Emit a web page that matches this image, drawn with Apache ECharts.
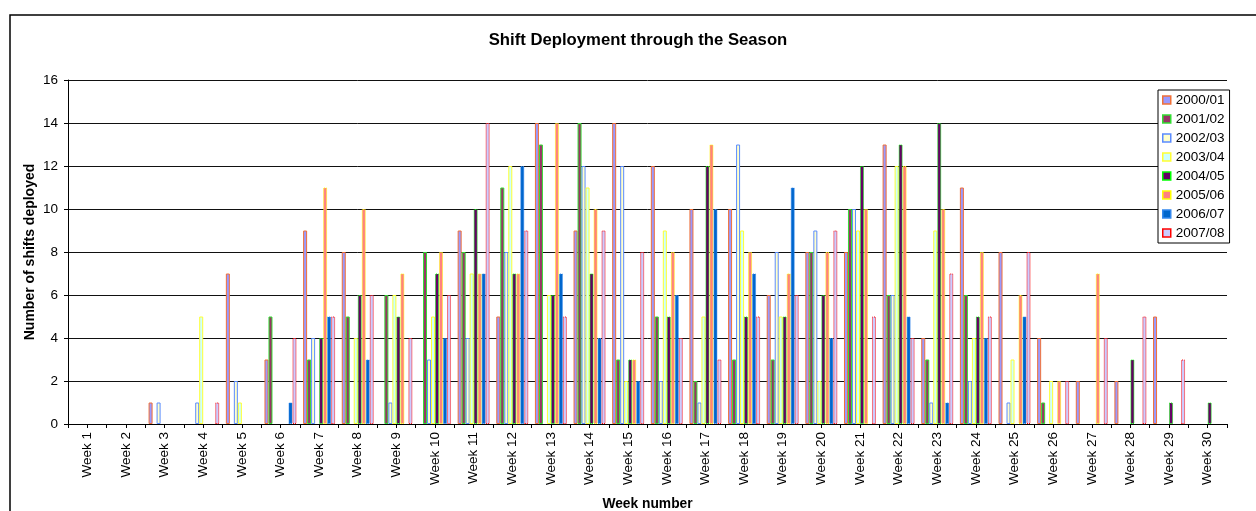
<!DOCTYPE html>
<html>
<head>
<meta charset="utf-8">
<script src="https://cdn.jsdelivr.net/npm/echarts@6/dist/echarts.min.js"></script>
<style>html,body{margin:0;padding:0;background:#fff;}#chart{width:1256px;height:511px;}</style>
</head>
<body>
<div id="chart"></div>
<script>
const weeks = ['Week 1','Week 2','Week 3','Week 4','Week 5','Week 6','Week 7','Week 8','Week 9','Week 10',
  'Week 11','Week 12','Week 13','Week 14','Week 15','Week 16','Week 17','Week 18','Week 19','Week 20',
  'Week 21','Week 22','Week 23','Week 24','Week 25','Week 26','Week 27','Week 28','Week 29','Week 30'];
const seasons = ['2000/01','2001/02','2002/03','2003/04','2004/05','2005/06','2006/07','2007/08'];
const s2000 = [0,0,1,0,7,3,9,8,0,0,9,5,14,9,14,12,10,10,6,8,8,13,4,11,8,4,2,2,5,0];
const s2001 = [0,0,0,0,0,5,3,5,6,8,8,11,13,14,3,5,2,3,3,8,10,6,3,6,0,1,0,0,0,0];
const s2002 = [0,0,1,1,2,0,4,0,1,3,4,8,0,12,12,2,1,13,8,9,10,6,1,2,1,0,0,0,0,0];
const s2003 = [0,0,0,5,1,0,0,4,6,5,7,12,6,11,2,9,5,9,5,2,9,12,9,4,3,2,0,0,0,0];
const s2004 = [0,0,0,0,0,0,4,6,5,7,10,7,6,7,3,5,12,5,5,6,12,13,14,5,0,0,0,3,1,1];
const s2005 = [0,0,0,0,0,0,11,10,7,8,7,7,14,10,3,8,13,8,7,8,10,12,10,8,6,2,7,0,0,0];
const s2006 = [0,0,0,0,0,1,5,3,0,4,7,12,7,4,2,6,10,7,11,4,0,5,1,4,5,0,0,0,0,0];
const s2007 = [0,0,0,1,0,4,5,6,4,6,14,9,5,9,8,4,3,5,6,9,5,4,7,5,8,2,4,5,3,0];
const yTicks = [0,2,4,6,8,10,12,14,16];

const allSeries = [s2000,s2001,s2002,s2003,s2004,s2005,s2006,s2007];
const styles = [
  {color:'#9999FF', borderColor:'#F07038', borderType:'solid'},
  {color:'#993366', borderColor:'#33DD33', borderType:'solid'},
  {color:'#FFFFCC', borderColor:'#5B8CFF', borderType:'solid'},
  {color:'#CCFFFF', borderColor:'#FFFF33', borderType:'solid'},
  {color:'#660066', borderColor:'#00FF00', borderType:'dotted'},
  {color:'#FF8080', borderColor:'#FFFF00', borderType:'dotted'},
  {color:'#0066CC', borderColor:'#3388EE', borderType:'dotted'},
  {color:'#CCCCFF', borderColor:'#FF0000', borderType:'dotted'}
];
const halfSlots = weeks.flatMap(w => [w + 'a', w + 'b']);
const FONT = "'Liberation Sans', Arial, sans-serif";

const chart = echarts.init(document.getElementById('chart'), null, {renderer:'canvas'});
chart.setOption({
  animation:false,
  backgroundColor:'#fff',
  textStyle:{fontFamily:FONT, color:'#000'},
  graphic:[{type:'rect', shape:{x:10, y:15, width:1400, height:700}, style:{fill:null, stroke:'#000', lineWidth:1.5}, z:-10, silent:true}],
  title:{text:'Shift Deployment through the Season', left:638, textAlign:'center', top:32, padding:0,
    textStyle:{fontFamily:FONT, fontSize:16.7, fontWeight:'bold', color:'#000'}},
  legend:{orient:'vertical', left:1158, top:90, padding:[3,5,3,4], itemGap:5, itemWidth:8, itemHeight:8,
    borderColor:'#000', borderWidth:1, backgroundColor:'#fff', icon:'rect',
    textStyle:{fontFamily:FONT, fontSize:13.5, color:'#000', padding:[0,0,0,0]}, itemStyle:{borderWidth:1.5},
    data:seasons},
  grid:{left:68, top:80, right:29, bottom:87, containLabel:false, outerBoundsMode:'none'},
  xAxis:[{
    type:'category', data:weeks, boundaryGap:true,
    name:'Week number', nameLocation:'middle', nameGap:73, nameMoveOverlap:false,
    nameTextStyle:{fontFamily:FONT, fontSize:13.8, fontWeight:'bold', color:'#000'},
    axisLine:{lineStyle:{color:'#000', width:1}},
    axisTick:{show:false},
    axisLabel:{interval:0, rotate:90, margin:8, fontFamily:FONT, fontSize:13.5, color:'#000'},
    splitLine:{show:false}
  },{
    type:'category', data:halfSlots, boundaryGap:true, position:'bottom',
    axisLine:{show:false},
    axisTick:{show:true, interval:0, length:4, lineStyle:{color:'#000', width:1}},
    axisLabel:{show:false}, splitLine:{show:false}
  }],
  yAxis:{
    type:'value', min:yTicks[0], max:yTicks[yTicks.length-1], interval:2,
    name:'Number of shifts deployed', nameLocation:'middle', nameGap:31, nameRotate:90, nameMoveOverlap:false,
    nameTextStyle:{fontFamily:FONT, fontSize:14, fontWeight:'bold', color:'#000'},
    axisLine:{show:true, lineStyle:{color:'#000', width:1}},
    axisTick:{show:true, length:4, lineStyle:{color:'#000'}},
    axisLabel:{margin:10, fontFamily:FONT, fontSize:13.5, color:'#000'},
    splitLine:{show:true, lineStyle:{color:'#111', width:1}}
  },
  series: allSeries.map((arr, i) => ({
    type:'bar', name:seasons[i], xAxisIndex:0,
    data: arr.map(v => v === 0 ? null : v),
    barWidth:4, barGap:'0%',
    itemStyle:{color:styles[i].color, borderColor:styles[i].borderColor, borderWidth:1, borderType:styles[i].borderType}
  }))
});
</script>
</body>
</html>
